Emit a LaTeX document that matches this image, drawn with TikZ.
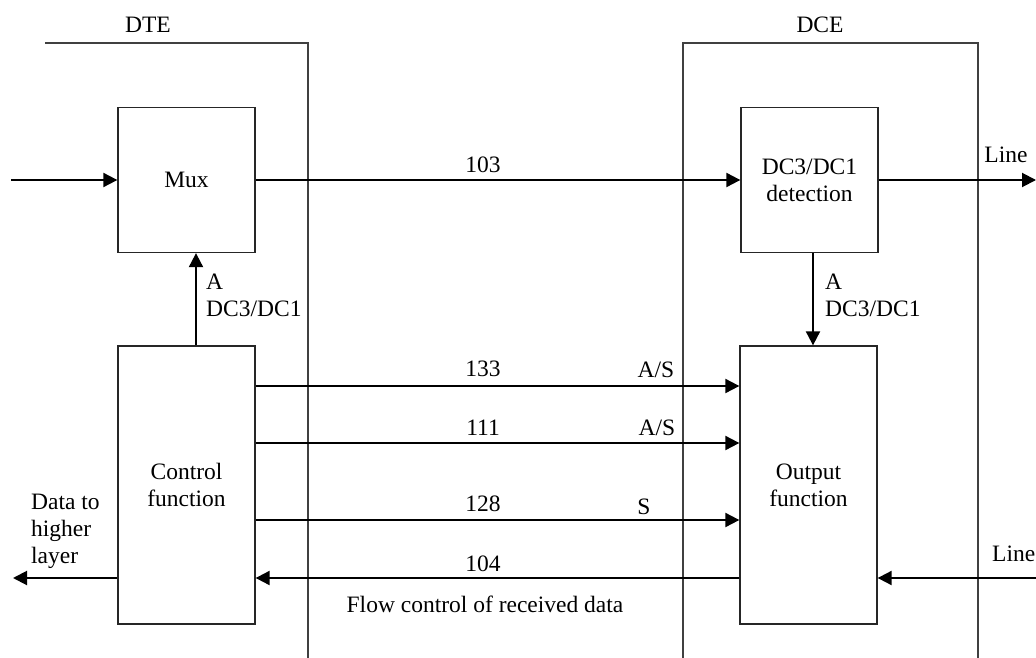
\documentclass[tikz,border=0pt]{standalone}
\usepackage{fontspec}
\setmainfont{Liberation Serif}
\usetikzlibrary{arrows.meta}
\begin{document}
\begin{tikzpicture}[x=1pt,y=-1pt,
  every node/.style={font=\fontsize{23.5}{27}\selectfont, inner sep=0pt},
  box/.style={draw=black!85, line width=1.3pt, minimum width=137pt, align=center},
  arr/.style={line width=2pt, -{Triangle[length=14pt,width=14pt]}},
  encl/.style={draw=black!75, line width=1.2pt}]
\useasboundingbox (0,0) rectangle (1036,658);
% enclosures
\draw[encl] (45,43) -- (308,43) -- (308,658);
\draw[encl] (683,658) -- (683,43) -- (978,43) -- (978,658);
\node (dte) at (148,25) {DTE};
\node (dce) at (820,25) {DCE};
% boxes
\node[box, minimum height=145pt] (mux) at (186.5,180) {Mux};
\node[box, minimum height=145pt] (det) at (809.5,180) {DC3/DC1\\detection};
\node[box, minimum height=278pt] (ctrl) at (186.5,485) {Control\\function};
\node[box, minimum height=278pt] (out) at (808.5,485) {Output\\function};
% free ends
\coordinate (inA) at (11,180);
\coordinate (lineOut) at (1036,180);
\coordinate (lineIn) at (1036,578);
\coordinate (higher) at (13,578);
\coordinate (dn) at ([xshift=3.5pt]det.south);
% connectors
\draw[arr] (inA) -- (mux.west);
\draw[arr] (mux.east) -- (det.west);
\draw[arr] (det.east) -- (lineOut);
\draw[arr] ([xshift=9.5pt]ctrl.north) -- ([xshift=9.5pt]mux.south);
\draw[arr] (dn) -- (dn |- out.north);
\draw[arr] ([yshift=99pt]ctrl.east) -- ([yshift=99pt]out.west);
\draw[arr] ([yshift=42pt]ctrl.east) -- ([yshift=42pt]out.west);
\draw[arr] ([yshift=-35pt]ctrl.east) -- ([yshift=-35pt]out.west);
\draw[arr] ([yshift=-93pt]out.west) -- ([yshift=-93pt]ctrl.east);
\draw[arr] (lineIn) -- ([yshift=-93pt]out.east);
\draw[arr] ([yshift=-93pt]ctrl.west) -- (higher);
% labels
\node (l103) at (483,165) {103};
\node (l133) at (483,369) {133};
\node (l111) at (483,428) {111};
\node (l128) at (483,504) {128};
\node (l104) at (483,564) {104};
\node (las1) at (656,370) {A/S};
\node (las2) at (657,428) {A/S};
\node (ls) at (644,507) {S};
\node (lflow) at (485,604) {Flow control of received data};
\node[anchor=west, align=left] (ladc1) at (206,295) {A\\DC3/DC1};
\node[anchor=west, align=left] (ladc2) at (825,295) {A\\DC3/DC1};
\node (lline1) at (1006,155) {Line};
\node[anchor=west] (lline2) at (992,554) {Line};
\node[anchor=west, align=left] (ldata) at (31,531) {Data to\\higher\\layer};
\end{tikzpicture}
\end{document}
